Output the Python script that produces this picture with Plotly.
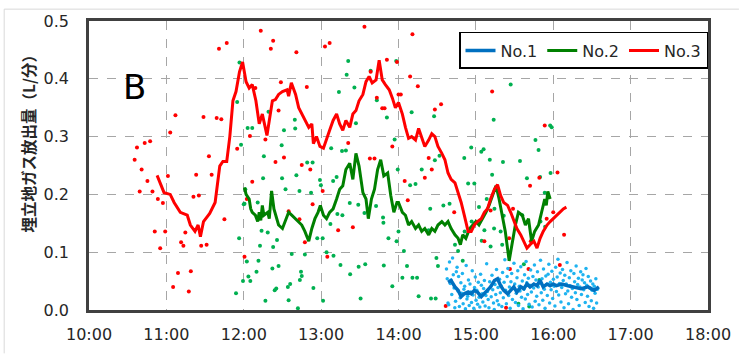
import numpy as np
import plotly.graph_objects as go

# --- Smoothed emission curves (time in decimal hours, value in L/min) ---
no1_t = [14.64, 14.68, 14.73, 14.77, 14.81, 14.85, 14.90, 14.94, 14.98, 15.02,
         15.07, 15.11, 15.15, 15.19, 15.24, 15.28, 15.32, 15.36, 15.41, 15.45,
         15.49, 15.53, 15.58, 15.62, 15.66, 15.70, 15.75, 15.79, 15.83, 15.87,
         15.92, 15.96, 16.00, 16.04, 16.11, 16.19, 16.28, 16.36, 16.45, 16.53, 16.59]
no1_v = [0.048, 0.051, 0.040, 0.034, 0.023, 0.028, 0.031, 0.028, 0.034, 0.031,
         0.023, 0.028, 0.034, 0.040, 0.051, 0.054, 0.042, 0.034, 0.028, 0.034,
         0.040, 0.031, 0.040, 0.037, 0.045, 0.040, 0.045, 0.042, 0.051, 0.040,
         0.045, 0.042, 0.045, 0.042, 0.045, 0.042, 0.040, 0.037, 0.040, 0.034, 0.040]

no2_t = [12.01, 12.03, 12.07, 12.09, 12.11, 12.15, 12.18, 12.20, 12.22, 12.24,
         12.26, 12.31, 12.33, 12.36, 12.39, 12.41, 12.45, 12.50, 12.54, 12.58,
         12.62, 12.67, 12.71, 12.75, 12.79, 12.84, 12.88, 12.92, 12.96, 12.99,
         13.03, 13.07, 13.11, 13.155, 13.20, 13.24, 13.28, 13.32, 13.37, 13.41,
         13.45, 13.49, 13.54, 13.58, 13.61, 13.65, 13.69, 13.73, 13.77, 13.81,
         13.86, 13.90, 13.94, 13.98, 14.00, 14.05, 14.09, 14.13, 14.17, 14.22,
         14.26, 14.30, 14.34, 14.39, 14.43, 14.47, 14.51, 14.56, 14.60, 14.64,
         14.68, 14.73, 14.77, 14.80, 14.83, 14.87, 14.92, 14.96, 15.00, 15.04,
         15.09, 15.13, 15.17, 15.21, 15.26, 15.30, 15.34, 15.38, 15.43, 15.47,
         15.51, 15.55, 15.60, 15.64, 15.68, 15.72, 15.76, 15.81, 15.85, 15.89,
         15.91, 15.93, 15.96]
no2_v = [0.212, 0.200, 0.192, 0.175, 0.169, 0.164, 0.153, 0.169, 0.155, 0.181,
         0.164, 0.169, 0.158, 0.206, 0.175, 0.164, 0.147, 0.141, 0.155, 0.169,
         0.164, 0.158, 0.153, 0.147, 0.136, 0.119, 0.141, 0.158, 0.169, 0.181,
         0.164, 0.158, 0.169, 0.175, 0.192, 0.209, 0.215, 0.243, 0.254, 0.226,
         0.271, 0.249, 0.203, 0.192, 0.158, 0.192, 0.209, 0.243, 0.260, 0.232,
         0.237, 0.198, 0.169, 0.186, 0.186, 0.169, 0.164, 0.147, 0.153, 0.141,
         0.147, 0.136, 0.141, 0.130, 0.141, 0.136, 0.147, 0.153, 0.147, 0.153,
         0.141, 0.130, 0.124, 0.113, 0.130, 0.124, 0.141, 0.147, 0.153, 0.147,
         0.158, 0.169, 0.181, 0.198, 0.215, 0.192, 0.164, 0.136, 0.085, 0.119,
         0.147, 0.169, 0.164, 0.147, 0.158, 0.119, 0.136, 0.147, 0.169, 0.192,
         0.181, 0.205, 0.192]

no3_t = [10.88, 10.97, 11.05, 11.10, 11.18, 11.27, 11.31, 11.37, 11.41, 11.44,
         11.48, 11.56, 11.63, 11.69, 11.73, 11.78, 11.82, 11.86, 11.90, 11.945,
         11.985, 12.03, 12.07, 12.11, 12.157, 12.20, 12.24, 12.28, 12.30, 12.37,
         12.41, 12.45, 12.50, 12.56, 12.58, 12.615, 12.67, 12.71, 12.75, 12.79,
         12.84, 12.88, 12.90, 12.94, 12.985, 13.03, 13.07, 13.11, 13.155, 13.20,
         13.24, 13.28, 13.32, 13.37, 13.41, 13.45, 13.49, 13.54, 13.58, 13.62,
         13.66, 13.71, 13.75, 13.79, 13.83, 13.88, 13.92, 13.96, 14.00, 14.05,
         14.09, 14.13, 14.17, 14.22, 14.26, 14.30, 14.34, 14.39, 14.43, 14.47,
         14.51, 14.56, 14.60, 14.64, 14.68, 14.73, 14.77, 14.81, 14.85, 14.90,
         14.94, 14.98, 15.02, 15.07, 15.11, 15.15, 15.19, 15.24, 15.28, 15.32,
         15.36, 15.41, 15.45, 15.49, 15.53, 15.58, 15.62, 15.66, 15.70, 15.75,
         15.79, 15.83, 15.87, 15.92, 15.96, 16.00, 16.04, 16.08, 16.13, 16.17]
no3_v = [0.233, 0.203, 0.200, 0.186, 0.169, 0.164, 0.147, 0.136, 0.147, 0.127,
         0.153, 0.167, 0.186, 0.249, 0.257, 0.257, 0.300, 0.362, 0.378, 0.412,
         0.429, 0.395, 0.384, 0.390, 0.362, 0.322, 0.339, 0.316, 0.302, 0.362,
         0.364, 0.373, 0.378, 0.381, 0.370, 0.393, 0.373, 0.350, 0.339, 0.328,
         0.316, 0.322, 0.288, 0.300, 0.283, 0.280, 0.294, 0.311, 0.328, 0.339,
         0.322, 0.311, 0.328, 0.316, 0.339, 0.345, 0.362, 0.373, 0.395, 0.404,
         0.393, 0.398, 0.432, 0.398, 0.390, 0.381, 0.367, 0.350, 0.359, 0.339,
         0.316, 0.297, 0.300, 0.294, 0.314, 0.300, 0.283, 0.294, 0.305, 0.300,
         0.283, 0.271, 0.260, 0.237, 0.226, 0.220, 0.203, 0.186, 0.164, 0.136,
         0.136, 0.147, 0.153, 0.158, 0.169, 0.175, 0.192, 0.209, 0.217, 0.198,
         0.186, 0.181, 0.169, 0.153, 0.141, 0.130, 0.119, 0.107, 0.113, 0.119,
         0.107, 0.124, 0.136, 0.147, 0.153, 0.158, 0.164, 0.169, 0.175, 0.178]

# --- Raw readings ---
no3_raw_t = [10.59, 10.62, 10.655, 10.68, 10.72, 10.755, 10.79, 10.82, 10.85, 10.89,
             10.92, 10.955, 10.985, 11.02, 11.05, 11.087, 11.117, 11.15, 11.19, 11.22,
             11.245, 11.29, 11.316, 11.35, 11.385, 11.42, 11.45, 11.48, 11.52, 11.55,
             11.585, 11.65, 11.68, 11.71, 11.75, 11.78, 11.915, 12.01, 12.04, 12.08,
             12.11, 12.15, 12.22, 12.28, 12.35, 12.38, 12.41, 12.45, 12.48, 12.52,
             12.58, 12.68, 12.72, 12.75, 12.79, 12.815, 12.86, 12.89, 13.02, 13.05,
             13.08, 13.11, 13.22, 13.35, 13.41, 13.56, 13.63, 13.64, 13.69, 13.72,
             13.79, 13.82, 13.85, 13.92, 13.98, 14.00, 14.03, 14.08, 14.12, 14.15,
             14.18, 14.25, 14.34, 14.39, 14.43, 14.47, 14.55, 14.61, 14.72, 15.11,
             15.19, 15.21, 15.39, 15.43, 15.44, 15.48, 15.68, 15.70, 15.71, 15.82,
             15.89, 15.915, 16.00, 16.055, 16.085, 16.14]
no3_raw_v = [0.260, 0.281, 0.205, 0.243, 0.289, 0.223, 0.292, 0.205, 0.136, 0.192,
             0.107, 0.185, 0.136, 0.232, 0.307, 0.040, 0.337, 0.064, 0.117, 0.111,
             0.134, 0.032, 0.067, 0.196, 0.234, 0.198, 0.111, 0.334, 0.113, 0.266,
             0.234, 0.332, 0.452, 0.330, 0.157, 0.462, 0.279, 0.092, 0.192, 0.301,
             0.222, 0.384, 0.483, 0.295, 0.452, 0.466, 0.256, 0.345, 0.394, 0.264,
             0.171, 0.446, 0.157, 0.251, 0.117, 0.386, 0.243, 0.183, 0.206, 0.456,
             0.092, 0.462, 0.138, 0.289, 0.143, 0.490, 0.262, 0.412, 0.262, 0.367,
             0.349, 0.349, 0.433, 0.283, 0.429, 0.373, 0.373, 0.223, 0.190, 0.404,
             0.477, 0.387, 0.229, 0.263, 0.243, 0.347, 0.356, 0.007, 0.169, 0.119,
             0.172, 0.378, 0.004, 0.124, 0.071, 0.175, 0.071, 0.215, 0.119, 0.229,
             0.319, 0.158, 0.169, 0.238, 0.078, 0.130]

no2_raw_t = [11.90, 11.915, 11.94, 11.945, 11.965, 11.99, 12.00, 12.01, 12.02, 12.04,
             12.05, 12.06, 12.085, 12.11, 12.165, 12.18, 12.19, 12.21, 12.23, 12.25,
             12.26, 12.28, 12.31, 12.32, 12.37, 12.38, 12.40, 12.42, 12.43, 12.45,
             12.49, 12.495, 12.52, 12.54, 12.57, 12.58, 12.60, 12.62, 12.66, 12.665,
             12.68, 12.70, 12.72, 12.725, 12.74, 12.75, 12.79, 12.82, 12.87, 12.89,
             12.90, 12.95, 12.985, 12.997, 13.02, 13.025, 13.07, 13.12, 13.13, 13.155,
             13.16, 13.20, 13.21, 13.23, 13.25, 13.27, 13.275, 13.32, 13.33, 13.35,
             13.37, 13.375, 13.43, 13.45, 13.48, 13.485, 13.51, 13.56, 13.57, 13.64,
             13.71, 13.72, 13.80, 13.805, 13.81, 13.85, 13.87, 13.92, 13.95, 13.97,
             13.975, 13.99, 14.00, 14.05, 14.07, 14.11, 14.15, 14.17, 14.18, 14.22,
             14.24, 14.26, 14.30, 14.39, 14.41, 14.42, 14.46, 14.47, 14.48, 14.49,
             14.51, 14.53, 14.58, 14.66, 14.73, 14.77, 14.83, 14.85, 14.855, 14.90,
             14.94, 14.945, 14.98, 15.04, 15.07, 15.075, 15.10, 15.11, 15.14, 15.18,
             15.19, 15.21, 15.23, 15.235, 15.24, 15.32, 15.34, 15.35, 15.36, 15.45,
             15.55, 15.57, 15.60, 15.62, 15.66, 15.69, 15.77, 15.81, 15.82, 15.83,
             15.835, 15.89, 15.895, 15.96, 15.965, 15.98]
no2_raw_v = [0.029, 0.360, 0.124, 0.428, 0.286, 0.050, 0.183, 0.184, 0.209, 0.084,
             0.315, 0.058, 0.050, 0.315, 0.066, 0.186, 0.085, 0.111, 0.137, 0.228,
             0.266, 0.016, 0.134, 0.343, 0.072, 0.109, 0.034, 0.037, 0.121, 0.076,
             0.285, 0.228, 0.311, 0.209, 0.040, 0.017, 0.045, 0.097, 0.329, 0.314,
             0.233, 0.003, 0.206, 0.052, 0.066, 0.059, 0.096, 0.255, 0.203, 0.255,
             0.038, 0.124, 0.225, 0.216, 0.124, 0.016, 0.100, 0.149, 0.280, 0.223,
             0.094, 0.230, 0.166, 0.377, 0.078, 0.275, 0.164, 0.276, 0.407, 0.431,
             0.185, 0.062, 0.385, 0.323, 0.182, 0.075, 0.020, 0.168, 0.079, 0.414,
             0.180, 0.363, 0.160, 0.151, 0.077, 0.333, 0.124, 0.041, 0.295, 0.431,
             0.119, 0.243, 0.136, 0.056, 0.102, 0.076, 0.216, 0.342, 0.056, 0.218,
             0.056, 0.024, 0.243, 0.138, 0.175, 0.020, 0.335, 0.259, 0.020, 0.090,
             0.076, 0.267, 0.181, 0.184, 0.113, 0.102, 0.085, 0.263, 0.136, 0.219,
             0.281, 0.153, 0.219, 0.178, 0.274, 0.120, 0.278, 0.138, 0.192, 0.260,
             0.110, 0.234, 0.329, 0.141, 0.175, 0.136, 0.113, 0.256, 0.163, 0.390,
             0.011, 0.258, 0.164, 0.079, 0.228, 0.006, 0.294, 0.277, 0.052, 0.230,
             0.153, 0.203, 0.144, 0.319, 0.237, 0.316]

# No.1 logger samples every ~35 s from 14:37
no1_raw_start = 14.62
no1_raw_step = 0.0098
no1_raw_v = [0.071, 0.054, 0.012, 0.009, 0.083, 0.046, 0.052, 0.027, 0.090, 0.061,
             0.038, 0.004, 0.015, 0.066, 0.074, 0.033, 0.058, 0.006, 0.021, 0.047,
             0.029, 0.063, 0.011, 0.036, 0.041, 0.002, 0.077, 0.019, 0.024, 0.052,
             0.008, 0.045, 0.031, 0.013, 0.068, 0.026, 0.003, 0.039, 0.057, 0.017,
             0.034, 0.010, 0.048, 0.022, 0.005, 0.062, 0.043, 0.028, 0.014, 0.037,
             0.051, 0.007, 0.025, 0.080, 0.032, 0.018, 0.004, 0.049, 0.040, 0.023,
             0.060, 0.035, 0.012, 0.001, 0.044, 0.027, 0.070, 0.016, 0.039, 0.009,
             0.053, 0.030, 0.042, 0.006, 0.065, 0.021, 0.048, 0.087, 0.034, 0.011,
             0.058, 0.072, 0.025, 0.040, 0.003, 0.049, 0.063, 0.018, 0.037, 0.081,
             0.045, 0.013, 0.029, 0.056, 0.068, 0.008, 0.041, 0.033, 0.075, 0.022,
             0.050, 0.002, 0.036, 0.061, 0.019, 0.084, 0.047, 0.027, 0.055, 0.010,
             0.043, 0.069, 0.031, 0.005, 0.058, 0.038, 0.078, 0.015, 0.052, 0.024,
             0.066, 0.040, 0.009, 0.047, 0.086, 0.030, 0.054, 0.017, 0.071, 0.036,
             0.003, 0.059, 0.044, 0.025, 0.062, 0.079, 0.012, 0.048, 0.035, 0.067,
             0.020, 0.053, 0.041, 0.007, 0.074, 0.032, 0.057, 0.088, 0.026, 0.046,
             0.064, 0.014, 0.039, 0.070, 0.051, 0.004, 0.060, 0.028, 0.045, 0.082,
             0.033, 0.011, 0.056, 0.042, 0.068, 0.022, 0.037, 0.001, 0.063, 0.049,
             0.030, 0.076, 0.018, 0.044, 0.055, 0.008, 0.040, 0.066, 0.027, 0.052,
             0.061, 0.035, 0.047, 0.013, 0.072, 0.043, 0.024, 0.058, 0.006, 0.038,
             0.050, 0.016, 0.034, 0.045, 0.003, 0.041, 0.029, 0.054, 0.012, 0.036]
no1_raw_t = list(no1_raw_start + no1_raw_step * np.arange(len(no1_raw_v)))

hour_ticks = [10, 11, 12, 13, 14, 15, 16, 17, 18]
hour_labels = ["10:00", "11:00", "12:00", "13:00", "14:00", "15:00", "16:00", "17:00", "18:00"]

TICK_FONT = dict(family="DejaVu Sans, Verdana, sans-serif", size=16, color="#262626")

fig = go.Figure()

# raw points underneath
fig.add_trace(go.Scatter(x=no2_raw_t, y=no2_raw_v, mode="markers",
                         marker=dict(color="#00B050", size=4), showlegend=False, hoverinfo="skip"))
fig.add_trace(go.Scatter(x=no3_raw_t, y=no3_raw_v, mode="markers",
                         marker=dict(color="#FF0000", size=4), showlegend=False, hoverinfo="skip"))
fig.add_trace(go.Scatter(x=no1_raw_t, y=no1_raw_v, mode="markers",
                         marker=dict(color="#1FB3F0", size=3.5), showlegend=False, hoverinfo="skip"))

# smoothed curves
fig.add_trace(go.Scatter(x=no1_t, y=no1_v, mode="lines", name="No.1",
                         line=dict(color="#0070C0", width=3.5), legendrank=1))
fig.add_trace(go.Scatter(x=no2_t, y=no2_v, mode="lines", name="No.2",
                         line=dict(color="#008000", width=3), legendrank=2))
fig.add_trace(go.Scatter(x=no3_t, y=no3_v, mode="lines", name="No.3",
                         line=dict(color="#FF0000", width=3), legendrank=3))

fig.update_layout(
    width=743, height=356,
    margin=dict(l=89, r=26, t=20, b=41),
    paper_bgcolor="white", plot_bgcolor="white",
    showlegend=True,
    legend=dict(orientation="h", x=1.0, xanchor="right", y=0.962, yanchor="top",
                bgcolor="white", bordercolor="#000000", borderwidth=1.5,
                font=dict(family="DejaVu Sans, Verdana, sans-serif", size=16, color="#262626"),
                itemwidth=30, tracegroupgap=0),
    xaxis=dict(range=[10, 18], tickvals=hour_ticks, ticktext=hour_labels,
               showgrid=True, gridcolor="#A6A6A6", griddash="dash", gridwidth=1,
               showline=True, linecolor="#404040", linewidth=2.5, mirror=True,
               ticks="", tickfont=TICK_FONT, zeroline=False, ticklabelstandoff=8),
    yaxis=dict(range=[0, 0.5], dtick=0.1, tickformat=".1f",
               showgrid=True, gridcolor="#A6A6A6", griddash="dash", gridwidth=1,
               showline=True, linecolor="#404040", linewidth=2.5, mirror=True,
               ticks="", tickfont=TICK_FONT, zeroline=False, ticklabelstandoff=14),
    annotations=[
        dict(text="B", xref="paper", yref="paper", x=0.0525, y=0.847,
             showarrow=False, font=dict(family="DejaVu Sans, Verdana, sans-serif", size=34, color="black")),
        dict(text="<b>埋立地ガス放出量（L/分）</b>", xref="paper", yref="paper",
             x=-0.118, y=0.59, textangle=-90, showarrow=False,
             font=dict(family="Noto Sans CJK JP", size=15.5, color="#262626")),
    ],
    shapes=[
        dict(type="line", xref="paper", yref="paper", x0=-0.137, x1=1.05, y0=1.041, y1=1.041,
             line=dict(color="#D9D9D9", width=1)),
        dict(type="line", xref="paper", yref="paper", x0=-0.137, x1=-0.137, y0=1.041, y1=-0.15,
             line=dict(color="#D9D9D9", width=1)),
    ],
)

fig.write_html("out.html")
